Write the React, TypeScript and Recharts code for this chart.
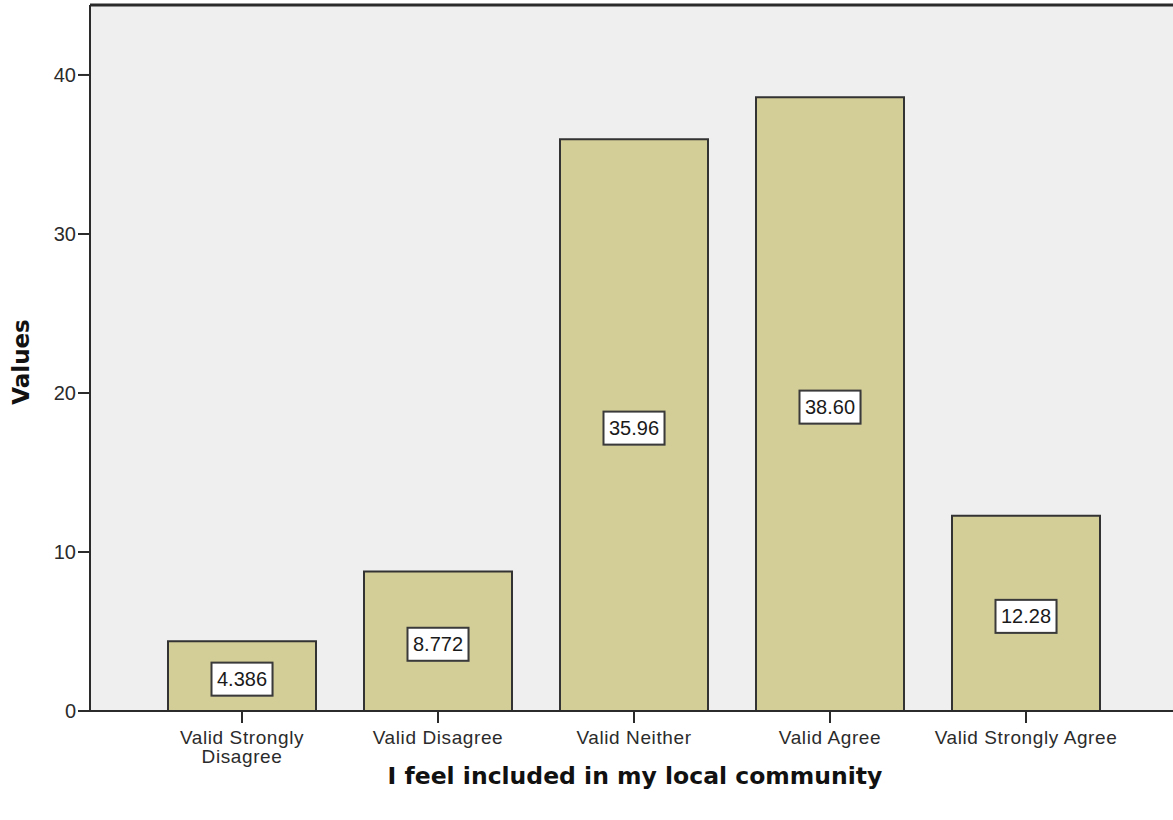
import {
  Bar,
  BarChart,
  CartesianGrid,
  LabelList,
  ReferenceLine,
  XAxis,
  YAxis,
} from 'recharts'

const CATEGORIES = [
  'Valid Strongly Disagree',
  'Valid Disagree',
  'Valid Neither',
  'Valid Agree',
  'Valid Strongly Agree',
]
const TICK_LINES = [
  ['Valid Strongly', 'Disagree'],
  ['Valid Disagree'],
  ['Valid Neither'],
  ['Valid Agree'],
  ['Valid Strongly Agree'],
]
const VALUES = [4.386, 8.772, 35.96, 38.6, 12.28]
const Y_TICKS = [0, 10, 20, 30, 40]
const Y_MAX = 44.4

const INK = '#2b2b2b'
const FONT = 'Arial, "Liberation Sans", sans-serif'
const BOLD_FONT = '"DejaVu Sans", Verdana, sans-serif'

const data = CATEGORIES.map((name, i) => ({ name, value: VALUES[i] }))

function CategoryTick(props: any) {
  const { x, y, index } = props
  const lines = TICK_LINES[index] ?? [props.payload?.value]
  return (
    <text
      x={x}
      y={y}
      textAnchor="middle"
      fill={INK}
      fontSize={19}
      letterSpacing={0.6}
      fontFamily={FONT}
    >
      {lines.map((line: string, i: number) => (
        <tspan key={i} x={x} dy={i === 0 ? 19 : 19}>
          {line}
        </tspan>
      ))}
    </text>
  )
}

function ValueBox(props: any) {
  const { x, y, width, height, value } = props
  const cx = x + width / 2
  const cy = y + height / 2 + 3
  const w = 61
  const h = 33
  return (
    <g>
      <rect x={cx - w / 2 + 1} y={cy - h / 2 + 1} width={w} height={h} fill="#8a8a8a" opacity={0.5} />
      <rect x={cx - w / 2} y={cy - h / 2} width={w} height={h} fill="#ffffff" stroke="#3a3a3a" strokeWidth={2} />
      <text x={cx} y={cy + 7} textAnchor="middle" fill="#1a1a1a" fontSize={20} fontFamily={FONT}>
        {Number(value).toPrecision(4)}
      </text>
    </g>
  )
}

export default function App() {
  return (
    <div style={{ position: 'absolute', left: 0, top: 0, background: '#ffffff' }}>
      <BarChart
        width={1180}
        height={820}
        data={data}
        margin={{ top: 5, right: 0, bottom: 0, left: 0 }}
        barCategoryGap={0}
      >
        <CartesianGrid horizontal={false} vertical={false} fill="#efefef" />
        <XAxis
          dataKey="name"
          height={109}
          padding={{ left: 54, right: 56 }}
          axisLine={{ stroke: INK, strokeWidth: 2 }}
          tickLine={{ stroke: INK, strokeWidth: 2 }}
          tickSize={12}
          tick={<CategoryTick />}
          interval={0}
          label={{
            value: 'I feel included in my local community',
            position: 'insideBottom',
            offset: 36,
            fill: '#111111',
            fontSize: 23.5,
            fontWeight: 'bold',
            fontFamily: BOLD_FONT,
          }}
        />
        <YAxis
          width={90}
          domain={[0, Y_MAX]}
          ticks={Y_TICKS}
          allowDataOverflow
          axisLine={{ stroke: INK, strokeWidth: 2 }}
          tickLine={{ stroke: INK, strokeWidth: 2 }}
          tickSize={12}
          tickMargin={2}
          tick={{ fill: INK, fontSize: 20, fontFamily: FONT }}
          label={{
            content: () => (
              <text
                x={29}
                y={362}
                transform="rotate(-90 29 362)"
                textAnchor="middle"
                fill="#111111"
                fontSize={23}
                fontWeight="bold"
                fontFamily={BOLD_FONT}
              >
                Values
              </text>
            ),
          }}
        />
        <ReferenceLine y={Y_MAX} stroke={INK} strokeWidth={3} />
        <Bar
          dataKey="value"
          barSize={148}
          fill="#d3cd97"
          stroke="#333333"
          strokeWidth={2}
          isAnimationActive={false}
        >
          <LabelList dataKey="value" content={<ValueBox />} />
        </Bar>
      </BarChart>
    </div>
  )
}
